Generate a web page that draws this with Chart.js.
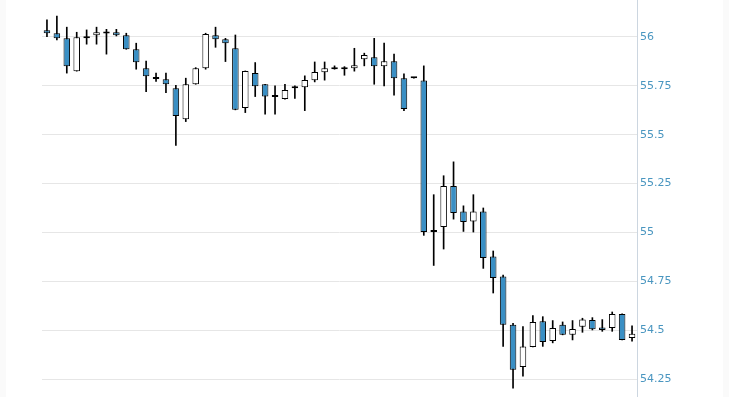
<!DOCTYPE html>
<html>
<head>
<meta charset="utf-8">
<script src="https://cdn.jsdelivr.net/npm/chart.js@4.4.1/dist/chart.umd.min.js"></script>
<style>
  html, body { margin: 0; padding: 0; background: #fafafa; }
  #wrap { position: absolute; left: 6px; top: 0; width: 717px; height: 397px; background: #fff; }
</style>
</head>
<body>
<div id="wrap"><canvas id="candles" width="717" height="397"></canvas></div>
<script>
// OHLC, one entry per candle
const opens = [
  56.034, 56.019, 55.993, 55.825, 55.993, 56.009, 56.024, 56.024, 56.009, 55.937,
  55.840, 55.785, 55.784, 55.738, 55.579, 55.758, 55.840, 56.009, 55.988, 55.942,
  55.636, 55.815, 55.758, 55.693, 55.682, 55.738, 55.743, 55.779, 55.820, 55.835,
  55.840, 55.840, 55.886, 55.896, 55.850, 55.876, 55.789, 55.789, 55.777, 55.002,
  55.028, 55.237, 55.107, 55.056, 55.107, 54.877, 54.775, 54.527, 54.312, 54.414,
  54.545, 54.445, 54.527, 54.476, 54.517, 54.552, 54.513, 54.511, 54.583, 54.460
];
const highs = [
  56.087, 56.107, 56.050, 56.024, 56.036, 56.050, 56.039, 56.039, 56.019, 55.968,
  55.877, 55.815, 55.815, 55.753, 55.789, 55.843, 56.019, 56.050, 55.993, 56.010,
  55.826, 55.869, 55.758, 55.750, 55.758, 55.750, 55.801, 55.872, 55.872, 55.852,
  55.848, 55.942, 55.917, 55.993, 55.968, 55.912, 55.811, 55.789, 55.852, 55.193,
  55.290, 55.361, 55.136, 55.193, 55.125, 54.905, 54.782, 54.535, 54.518, 54.574,
  54.569, 54.549, 54.542, 54.549, 54.561, 54.564, 54.554, 54.593, 54.583, 54.522
];
const lows = [
  56.002, 55.985, 55.815, 55.825, 55.963, 55.963, 55.912, 56.005, 55.937, 55.835,
  55.720, 55.772, 55.715, 55.445, 55.567, 55.758, 55.835, 55.947, 55.874, 55.627,
  55.613, 55.695, 55.605, 55.605, 55.682, 55.685, 55.623, 55.770, 55.779, 55.835,
  55.804, 55.825, 55.852, 55.758, 55.750, 55.702, 55.623, 55.789, 54.985, 54.831,
  54.915, 55.068, 55.005, 55.002, 54.816, 54.690, 54.417, 54.203, 54.264, 54.414,
  54.417, 54.435, 54.476, 54.450, 54.489, 54.501, 54.494, 54.494, 54.450, 54.443
];
const closes = [
  56.019, 55.993, 55.850, 55.998, 55.993, 56.024, 56.017, 56.009, 55.937, 55.871,
  55.799, 55.785, 55.758, 55.595, 55.758, 55.840, 56.015, 55.988, 55.968, 55.627,
  55.826, 55.748, 55.695, 55.693, 55.729, 55.748, 55.780, 55.821, 55.840, 55.835,
  55.835, 55.855, 55.908, 55.850, 55.876, 55.789, 55.631, 55.789, 55.002, 55.012,
  55.237, 55.099, 55.053, 55.107, 54.869, 54.767, 54.527, 54.297, 54.416, 54.542,
  54.440, 54.511, 54.476, 54.506, 54.554, 54.504, 54.501, 54.583, 54.450, 54.481
];
const labels = opens.map((_, i) => String(i + 1));
const yTicks = [54.25, 54.5, 54.75, 55, 55.25, 55.5, 55.75, 56];
const yMin = 54.158, yMax = 56.189;

const downColor = '#3a8fc4';
const upColor = '#ffffff';

new Chart(document.getElementById('candles'), {
  type: 'bar',
  data: {
    labels,
    datasets: [
      {
        // corpos
        data: opens.map((o, i) => [o, closes[i]]),
        backgroundColor: opens.map((o, i) => closes[i] < o ? downColor : upColor),
        borderColor: '#000',
        borderWidth: 1,
        borderSkipped: false,
        minBarLength: 2,
        barPercentage: 0.66,
        categoryPercentage: 1,
        grouped: false
      },
      {
        // pavios
        data: lows.map((l, i) => [l, highs[i]]),
        backgroundColor: '#000',
        barThickness: 1,
        grouped: false
      }
    ]
  },
  options: {
    responsive: false,
    animation: false,
    layout: { padding: { left: 36, top: 0, right: 0, bottom: 0 } },
    plugins: { legend: { display: false }, tooltip: { enabled: false } },
    scales: {
      x: { display: false, offset: true },
      y: {
        position: 'right',
        min: yMin,
        max: yMax,
        afterBuildTicks: axis => { axis.ticks = yTicks.map(v => ({ value: v })); },
        afterFit: axis => { axis.width = 86; axis.paddingTop = 0; axis.paddingBottom = 0; },
        grid: { color: '#e6e6e6', drawTicks: false },
        border: { color: '#ccd6e0' },
        ticks: {
          padding: 3,
          color: '#4a96c0',
          font: { family: 'DejaVu Sans', size: 11 },
          callback: v => String(v)
        }
      }
    }
  }
});
</script>
</body>
</html>
